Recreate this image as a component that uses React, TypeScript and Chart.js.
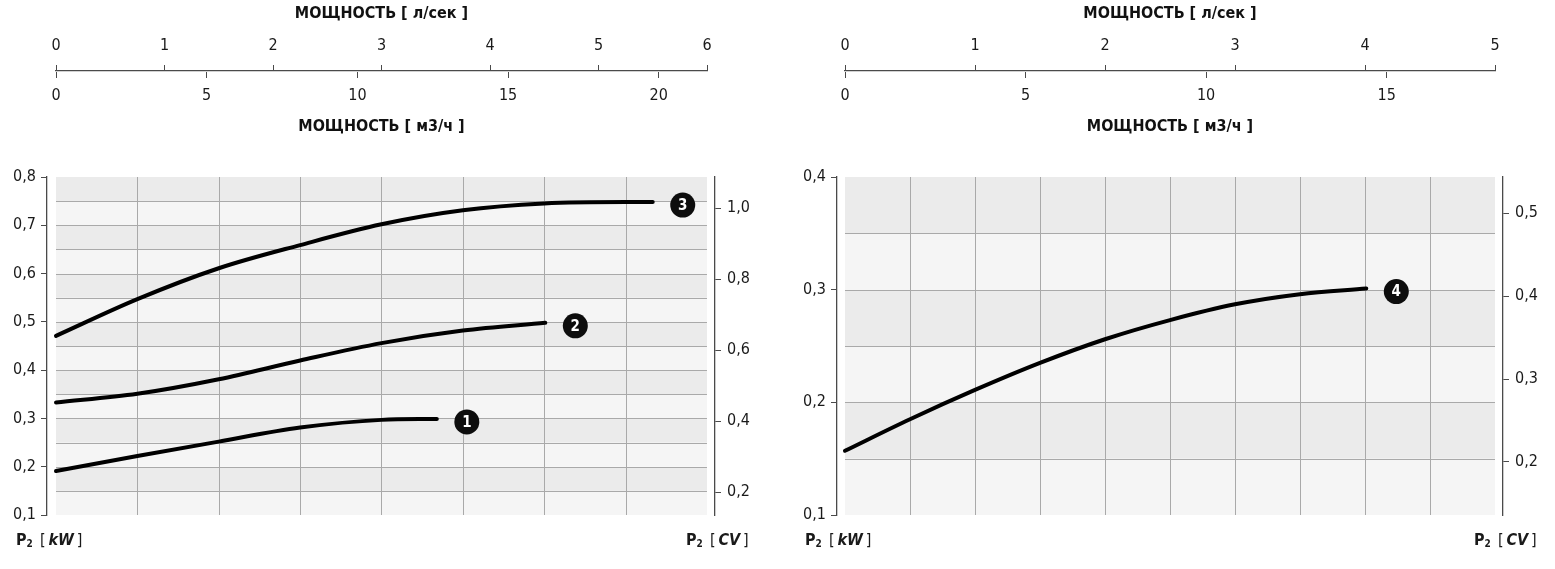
import React, { useEffect, useRef } from 'react';
import { Chart, registerables } from 'chart.js';

Chart.register(...registerables);

const FONT = '"Liberation Sans Narrow", "DejaVu Sans Condensed", "Open Sans", sans-serif';
const TEXT = '#1a1a1a';
const AXIS = '#4a4a4a';
const KW_PER_CV = 0.7355;
const LS_TO_M3H = 3.6;

// ---------- left panel ----------
const L_LS_TICKS = [0, 1, 2, 3, 4, 5, 6];
const L_M3H_TICKS = [0, 5, 10, 15, 20];
const L_LS_MAX = 6;
const L_KW_TICKS = [0.1, 0.2, 0.3, 0.4, 0.5, 0.6, 0.7, 0.8];
const L_CV_TICKS = [0.2, 0.4, 0.6, 0.8, 1.0];
const L_V_GRID = [0.75, 1.5, 2.25, 3, 3.75, 4.5, 5.25];
const L_BAND_EDGES = [0.1, 0.15, 0.2, 0.25, 0.3, 0.35, 0.4, 0.45, 0.5, 0.55, 0.6, 0.65, 0.7, 0.75, 0.8];

const C1_FLOW = [0, 0.75, 1.5, 2.25, 3.0, 3.51];
const C1_KW = [0.191, 0.222, 0.252, 0.281, 0.297, 0.299];
const C2_FLOW = [0, 0.75, 1.5, 2.25, 3.0, 3.75, 4.51];
const C2_KW = [0.333, 0.351, 0.381, 0.42, 0.456, 0.482, 0.498];
const C3_FLOW = [0, 0.75, 1.5, 2.25, 3.0, 3.75, 4.5, 5.25, 5.5];
const C3_KW = [0.471, 0.547, 0.611, 0.659, 0.702, 0.731, 0.745, 0.748, 0.748];
const L_CURVE_LABELS = ['1', '2', '3'];

// ---------- right panel ----------
const R_LS_TICKS = [0, 1, 2, 3, 4, 5];
const R_M3H_TICKS = [0, 5, 10, 15];
const R_LS_MAX = 5;
const R_KW_TICKS = [0.1, 0.2, 0.3, 0.4];
const R_CV_TICKS = [0.2, 0.3, 0.4, 0.5];
const R_V_GRID = [0.5, 1, 1.5, 2, 2.5, 3, 3.5, 4, 4.5];
const R_BAND_EDGES = [0.1, 0.15, 0.2, 0.25, 0.3, 0.35, 0.4];

const C4_FLOW = [0, 0.5, 1, 1.5, 2, 2.5, 3, 3.5, 4.01];
const C4_KW = [0.157, 0.185, 0.211, 0.235, 0.256, 0.273, 0.287, 0.296, 0.301];
const R_CURVE_LABELS = ['4'];

const TITLE_LS = 'МОЩНОСТЬ [ л/сек ]';
const TITLE_M3H = 'МОЩНОСТЬ [ м3/ч ]';

const fmtComma = (v: any) => Number(v).toFixed(1).replace('.', ',');
const setTicks = (vals: number[]) => (s: any) => {
  s.ticks = vals.map((v) => ({ value: v }));
};

function plotBgPlugin(vGrid: number[], bandEdges: number[], xFrom: number, xTo: number) {
  return {
    id: 'plotBg',
    beforeDraw(chart: any) {
      const { ctx } = chart;
      const x = chart.scales.x;
      const y = chart.scales.y;
      const x0 = x.getPixelForValue(xFrom);
      const x1 = x.getPixelForValue(xTo);
      ctx.save();
      for (let i = 0; i < bandEdges.length - 1; i++) {
        const yA = y.getPixelForValue(bandEdges[i]);
        const yB = y.getPixelForValue(bandEdges[i + 1]);
        ctx.fillStyle = i % 2 ? '#ebebeb' : '#f5f5f5';
        ctx.fillRect(x0, yB, x1 - x0, yA - yB);
      }
      ctx.strokeStyle = '#a9a9a9';
      ctx.lineWidth = 1;
      ctx.beginPath();
      for (let i = 1; i < bandEdges.length - 1; i++) {
        const yy = Math.round(y.getPixelForValue(bandEdges[i])) + 0.5;
        ctx.moveTo(x0, yy);
        ctx.lineTo(x1, yy);
      }
      const yTop = y.getPixelForValue(bandEdges[bandEdges.length - 1]);
      const yBot = y.getPixelForValue(bandEdges[0]);
      for (const v of vGrid) {
        const xx = Math.round(x.getPixelForValue(v)) + 0.5;
        ctx.moveTo(xx, yTop);
        ctx.lineTo(xx, yBot);
      }
      ctx.stroke();
      ctx.restore();
    },
  };
}

function badgePlugin(labels: string[]) {
  return {
    id: 'badges',
    afterDatasetsDraw(chart: any) {
      const ctx = chart.ctx;
      chart.data.datasets.forEach((_: any, i: number) => {
        const meta = chart.getDatasetMeta(i);
        const last = meta.data[meta.data.length - 1];
        const cx = last.x + 30;
        const cy = last.y + 3;
        ctx.save();
        ctx.fillStyle = '#0d0d0d';
        ctx.beginPath();
        ctx.arc(cx, cy, 12.5, 0, Math.PI * 2);
        ctx.fill();
        ctx.fillStyle = '#fff';
        ctx.font = `bold 15px ${FONT}`;
        ctx.textAlign = 'center';
        ctx.textBaseline = 'middle';
        ctx.fillText(labels[i], cx, cy + 1);
        ctx.restore();
      });
    },
  };
}

function topAxisConfig(lsMax: number, lsTicks: number[], m3hTicks: number[], padL: number, padR: number): any {
  const tickFont = { family: FONT, size: 16 };
  const titleFont = { family: FONT, size: 16, weight: 'bold' as const };
  return {
    type: 'scatter',
    data: { datasets: [] },
    options: {
      animation: false,
      responsive: false,
      events: [],
      layout: { padding: { left: padL, right: padR, top: 0, bottom: 0 } },
      plugins: { legend: { display: false }, tooltip: { enabled: false } },
      scales: {
        x: {
          type: 'linear',
          position: 'top',
          min: 0,
          max: lsMax,
          afterBuildTicks: setTicks(lsTicks),
          afterFit: (s: any) => {
            s.height = 71;
          },
          grid: { drawOnChartArea: false, drawTicks: true, tickLength: 6, color: AXIS, lineWidth: 1 },
          border: { display: true, color: AXIS, width: 1.3 },
          ticks: { padding: 10, font: tickFont, color: TEXT, autoSkip: false, maxRotation: 0, callback: (v: any) => String(v) },
          title: { display: true, text: TITLE_LS, font: titleFont, color: '#111', padding: { top: 4, bottom: 0 } },
        },
        x2: {
          type: 'linear',
          position: 'bottom',
          min: 0,
          max: lsMax * LS_TO_M3H,
          afterBuildTicks: setTicks(m3hTicks),
          afterFit: (s: any) => {
            s.height = 68;
          },
          grid: { drawOnChartArea: false, drawTicks: true, tickLength: 6, color: AXIS, lineWidth: 1 },
          border: { display: false },
          ticks: { padding: 8, font: tickFont, color: TEXT, autoSkip: false, maxRotation: 0, callback: (v: any) => String(v) },
          title: { display: true, text: TITLE_M3H, font: titleFont, color: '#111', padding: { top: 0, bottom: 4 } },
        },
        y: { display: false },
      },
    },
  };
}

function mainConfig(p: {
  series: { flow: number[]; kw: number[] }[];
  labels: string[];
  xMin: number;
  xMax: number;
  lsMax: number;
  kwTicks: number[];
  cvTicks: number[];
  vGrid: number[];
  bandEdges: number[];
  yLeftWidth: number;
  yRightWidth: number;
}): any {
  const tickFont = { family: FONT, size: 16 };
  const kwMin = p.kwTicks[0];
  const kwMax = p.kwTicks[p.kwTicks.length - 1];
  return {
    type: 'scatter',
    data: {
      datasets: p.series.map((s) => ({
        data: s.flow.map((f, i) => ({ x: f, y: s.kw[i] })),
        showLine: true,
        borderColor: '#000',
        borderWidth: 4,
        pointRadius: 0,
        cubicInterpolationMode: 'monotone',
        borderCapStyle: 'round',
        fill: false,
      })),
    },
    options: {
      animation: false,
      responsive: false,
      events: [],
      layout: { padding: { top: 37, bottom: 54, left: 0, right: 0 } },
      plugins: { legend: { display: false }, tooltip: { enabled: false } },
      scales: {
        x: { type: 'linear', display: false, min: p.xMin, max: p.xMax },
        y: {
          type: 'linear',
          position: 'left',
          min: kwMin,
          max: kwMax,
          afterBuildTicks: setTicks(p.kwTicks),
          afterFit: (s: any) => {
            s.width = p.yLeftWidth;
          },
          grid: { drawOnChartArea: false, drawTicks: true, tickLength: 6, color: AXIS, lineWidth: 1 },
          border: { display: true, color: AXIS, width: 1.3 },
          ticks: { padding: 5, font: tickFont, color: TEXT, autoSkip: false, callback: fmtComma },
        },
        y2: {
          type: 'linear',
          position: 'right',
          min: kwMin / KW_PER_CV,
          max: kwMax / KW_PER_CV,
          afterBuildTicks: setTicks(p.cvTicks),
          afterFit: (s: any) => {
            s.width = p.yRightWidth;
          },
          grid: { drawOnChartArea: false, drawTicks: true, tickLength: 6, color: AXIS, lineWidth: 1 },
          border: { display: true, color: AXIS, width: 1.3 },
          ticks: { padding: 6, font: tickFont, color: TEXT, autoSkip: false, callback: fmtComma },
        },
      },
    },
    plugins: [plotBgPlugin(p.vGrid, p.bandEdges, 0, p.lsMax), badgePlugin(p.labels)],
  };
}

function ChartCanvas(props: { make: () => any; left: number; top: number; width: number; height: number }) {
  const ref = useRef<HTMLCanvasElement>(null);
  useEffect(() => {
    const chart = new Chart(ref.current as HTMLCanvasElement, props.make());
    return () => chart.destroy();
  }, []);
  return (
    <canvas
      ref={ref}
      width={props.width}
      height={props.height}
      style={{ position: 'absolute', left: props.left, top: props.top, width: props.width, height: props.height, display: 'block' }}
    />
  );
}

function UnitLabel(props: { left: number; unit: string }) {
  return (
    <div
      style={{
        position: 'absolute',
        left: props.left,
        top: 530,
        fontFamily: FONT,
        fontSize: 16,
        lineHeight: '20px',
        color: TEXT,
        whiteSpace: 'nowrap',
      }}
    >
      <b>
        P<sub style={{ fontSize: 10, lineHeight: 0, verticalAlign: '-2px' }}>2</sub>
      </b>
      {'\u2002[\u2009'}
      <b>
        <i>{props.unit}</i>
      </b>
      {'\u2009]'}
    </div>
  );
}

export default function App() {
  return (
    <div style={{ position: 'absolute', left: 0, top: 0, width: 1555, height: 569, background: '#fff', overflow: 'hidden' }}>
      <ChartCanvas make={() => topAxisConfig(L_LS_MAX, L_LS_TICKS, L_M3H_TICKS, 56, 53)} left={0} top={0} width={760} height={140} />
      <ChartCanvas
        make={() =>
          mainConfig({
            series: [
              { flow: C1_FLOW, kw: C1_KW },
              { flow: C2_FLOW, kw: C2_KW },
              { flow: C3_FLOW, kw: C3_KW },
            ],
            labels: L_CURVE_LABELS,
            xMin: -0.083,
            xMax: 6.074,
            lsMax: L_LS_MAX,
            kwTicks: L_KW_TICKS,
            cvTicks: L_CV_TICKS,
            vGrid: L_V_GRID,
            bandEdges: L_BAND_EDGES,
            yLeftWidth: 47,
            yRightWidth: 45,
          })
        }
        left={0}
        top={140}
        width={760}
        height={429}
      />
      <ChartCanvas make={() => topAxisConfig(R_LS_MAX, R_LS_TICKS, R_M3H_TICKS, 65, 60)} left={780} top={0} width={775} height={140} />
      <ChartCanvas
        make={() =>
          mainConfig({
            series: [{ flow: C4_FLOW, kw: C4_KW }],
            labels: R_CURVE_LABELS,
            xMin: -0.0615,
            xMax: 5.0615,
            lsMax: R_LS_MAX,
            kwTicks: R_KW_TICKS,
            cvTicks: R_CV_TICKS,
            vGrid: R_V_GRID,
            bandEdges: R_BAND_EDGES,
            yLeftWidth: 57,
            yRightWidth: 52,
          })
        }
        left={780}
        top={140}
        width={775}
        height={429}
      />
      <UnitLabel left={16} unit="kW" />
      <UnitLabel left={686} unit="CV" />
      <UnitLabel left={805} unit="kW" />
      <UnitLabel left={1474} unit="CV" />
    </div>
  );
}
